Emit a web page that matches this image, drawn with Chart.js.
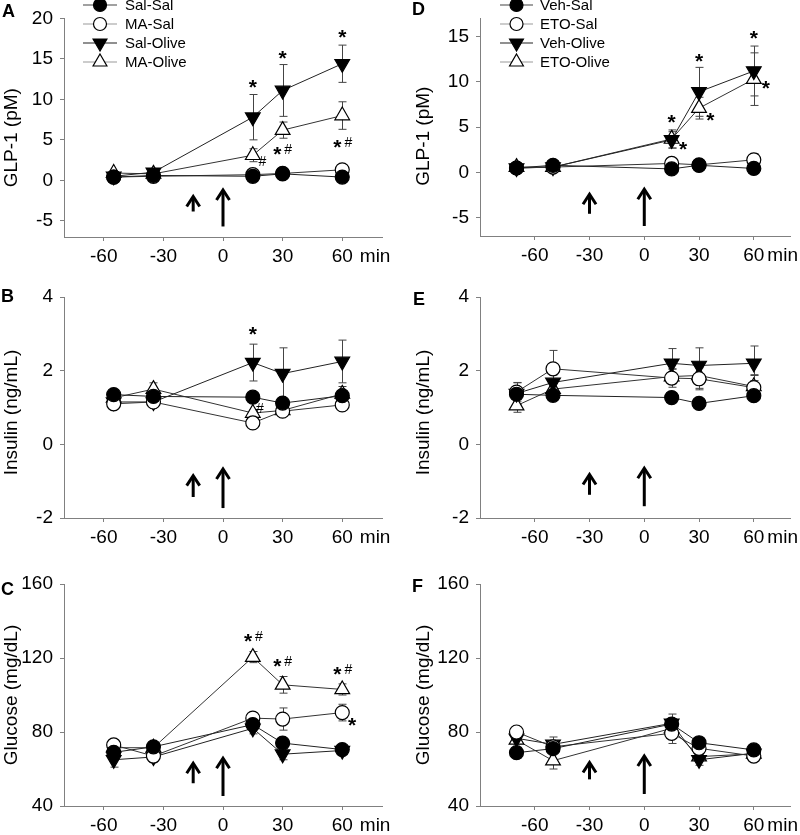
<!DOCTYPE html>
<html>
<head>
<meta charset="utf-8">
<title>GLP-1, insulin and glucose after olive oil</title>
<script src="https://cdn.jsdelivr.net/npm/chart.js@4.4.1/dist/chart.umd.min.js"></script>
<style>
  html, body { margin: 0; padding: 0; background: #fff; }
  body { position: relative; width: 800px; height: 835px; overflow: hidden; }
  .panel { position: absolute; }
  .panel canvas { display: block; }
  .tag { position: absolute; font: bold 18px Arial, 'Liberation Sans', sans-serif; line-height: 18px; color: #000; }
</style>
</head>
<body>
<div class="panel" style="left:0;top:0"><canvas id="panelA" width="400" height="270"></canvas></div>
<div class="panel" style="left:0;top:270px"><canvas id="panelB" width="400" height="280"></canvas></div>
<div class="panel" style="left:0;top:550px"><canvas id="panelC" width="400" height="285"></canvas></div>
<div class="panel" style="left:400px;top:0"><canvas id="panelD" width="400" height="270"></canvas></div>
<div class="panel" style="left:400px;top:270px"><canvas id="panelE" width="400" height="280"></canvas></div>
<div class="panel" style="left:400px;top:550px"><canvas id="panelF" width="400" height="285"></canvas></div>

<div class="tag" style="left:2px;top:2px">A</div>
<div class="tag" style="left:1px;top:287px">B</div>
<div class="tag" style="left:1px;top:580px">C</div>
<div class="tag" style="left:412px;top:0">D</div>
<div class="tag" style="left:413px;top:290px">E</div>
<div class="tag" style="left:412px;top:577px">F</div>

<script>
'use strict';

/* ── Data ────────────────────────────────────────────── */

var TIMES_MA  = [-55, -35, 15, 30, 60];
var TIMES_ETO = [-70, -50, 15, 30, 60];
var X_TICKS   = [-60, -30, 0, 30, 60];

var NAMES_MA  = ['Sal-Sal', 'MA-Sal', 'Sal-Olive', 'MA-Olive'];
var NAMES_ETO = ['Veh-Sal', 'ETO-Sal', 'Veh-Olive', 'ETO-Olive'];

var Y_TICKS_GLP_A = [-5, 0, 5, 10, 15, 20];
var Y_TICKS_GLP_D = [-5, 0, 5, 10, 15];
var Y_TICKS_INS   = [-2, 0, 2, 4];
var Y_TICKS_GLU   = [40, 80, 120, 160];

/* A — GLP-1, MA study */
var glpA_salSal     = [0.4, 0.6, 0.5, 0.8, 0.4];
var glpA_salSalErr  = [0.1, 0.1, 0.1, 0.1, 0.1];
var glpA_maSal      = [0.4, 0.5, 0.7, 0.85, 1.3];
var glpA_maSalErr   = [0.1, 0.1, 0.15, 0.1, 0.3];
var glpA_salOil     = [0.5, 1.0, 7.8, 11.1, 14.4];
var glpA_salOilErr  = [0.2, 0.3, 2.8, 3.2, 2.3];
var glpA_maOil      = [0.9, 0.8, 3.1, 6.2, 8.0];
var glpA_maOilErr   = [0.2, 0.2, 0.8, 1.0, 1.7];

/* B — insulin, MA study */
var insB_salSal     = [1.35, 1.3, 1.28, 1.12, 1.32];
var insB_salSalErr  = [0.08, 0.08, 0.05, 0.08, 0.1];
var insB_maSal      = [1.1, 1.15, 0.58, 0.9, 1.07];
var insB_maSalErr   = [0.07, 0.07, 0.05, 0.07, 0.08];
var insB_salOil     = [1.15, 1.15, 2.22, 1.92, 2.25];
var insB_salOilErr  = [0.1, 0.1, 0.5, 0.7, 0.58];
var insB_maOil      = [1.26, 1.5, 0.85, 0.92, 1.37];
var insB_maOilErr   = [0.1, 0.17, 0.08, 0.1, 0.2];

/* C — glucose, MA study */
var gluC_salSal     = [69, 72, 84, 74, 70.5];
var gluC_salSalErr  = [3, 2, 3, 2, 2];
var gluC_maSal      = [73, 67, 87.5, 87, 90.5];
var gluC_maSalErr   = [2, 2, 3, 6, 4.5];
var gluC_salOil     = [65, 66.5, 82, 68, 70];
var gluC_salOilErr  = [4, 3, 3, 3, 2];
var gluC_maOil      = [71.5, 71.5, 120.5, 105.5, 103];
var gluC_maOilErr   = [2, 2, 3, 4.5, 3];

/* D — GLP-1, ETO study */
var glpD_vehSal     = [0.5, 0.8, 0.4, 0.8, 0.45];
var glpD_vehSalErr  = [0.1, 0.1, 0.1, 0.1, 0.1];
var glpD_etoSal     = [0.5, 0.6, 1.0, 0.85, 1.4];
var glpD_etoSalErr  = [0.1, 0.1, 0.15, 0.15, 0.7];
var glpD_vehOil     = [0.5, 0.6, 3.6, 8.9, 11.2];
var glpD_vehOilErr  = [0.1, 0.1, 0.9, 2.7, 2.75];
var glpD_etoOil     = [0.6, 0.6, 3.7, 7.1, 10.3];
var glpD_etoOilErr  = [0.1, 0.1, 1.0, 1.2, 2.9];

/* E — insulin, ETO study */
var insE_vehSal     = [1.36, 1.33, 1.27, 1.11, 1.32];
var insE_vehSalErr  = [0.1, 0.05, 0.05, 0.07, 0.12];
var insE_etoSal     = [1.42, 2.05, 1.8, 1.78, 1.54];
var insE_etoSalErr  = [0.25, 0.5, 0.25, 0.3, 0.35];
var insE_vehOil     = [1.38, 1.68, 2.2, 2.14, 2.2];
var insE_vehOilErr  = [0.3, 0.2, 0.4, 0.48, 0.47];
var insE_etoOil     = [1.05, 1.5, 1.84, 1.87, 1.57];
var insE_etoOilErr  = [0.18, 0.15, 0.2, 0.35, 0.3];

/* F — glucose, ETO study */
var gluF_vehSal     = [68.8, 71, 84.3, 74.2, 70.3];
var gluF_vehSalErr  = [3, 2, 3, 2, 2];
var gluF_etoSal     = [80, 72, 79.3, 71.2, 67];
var gluF_etoSalErr  = [2.5, 3, 5.5, 3, 2];
var gluF_vehOil     = [76.6, 73.3, 84.7, 65, 68.5];
var gluF_vehOilErr  = [3, 4, 5, 3, 2];
var gluF_etoOil     = [75.7, 64.5, 82, 66.7, 68.2];
var gluF_etoOilErr  = [2, 4.5, 3, 2, 2];

/* Significance marks: [time, value, text] */
var notesA = [[15, 12.2, '*'], [30, 15.7, '*'], [60, 18.3, '*'], [19.8, 2.4, '#'], [30, 3.85, '*#'], [60.3, 4.75, '*#']];
var notesB = [[15, 3.12, '*'], [18.6, 1.0, '#']];
var notesC = [[15.3, 132, '*#'], [30, 118.2, '*#'], [60.3, 114, '*#'], [65, 86.6, '*']];
var notesD = [[15, 6.1, '*'], [30, 12.9, '*'], [60, 15.4, '*'], [21.3, 3.1, '*'], [36.2, 6.3, '*'], [66.6, 9.9, '*']];

/* Dosing arrows: [time, from, to] */
var arrowsA = [[-15, -3.85, -2.0], [0, -5.7, -1.2]];
var arrowsB = [[-15, -1.43, -0.85], [0, -1.73, -0.67]];
var arrowsC = [[-15, 52.3, 63.1], [0, 45.4, 65.8]];
var arrowsD = [[-30, -4.55, -2.4], [0, -5.9, -1.85]];
var arrowsE = [[-30, -1.37, -0.82], [0, -1.68, -0.65]];
var arrowsF = [[-30, 54.4, 63.5], [0, 46.5, 67]];

/* ── Styling ─────────────────────────────────────────── */

var FONT = "Arial, 'Liberation Sans', sans-serif";
var AXIS = '#808080';
var TEXT_SIZE = 19;

var STYLES = [
  { pointStyle: 'circle',   rotation: 0,   radius: 7,   fill: '#000', line: '#222', legendLine: '#444' },
  { pointStyle: 'circle',   rotation: 0,   radius: 7,   fill: '#fff', line: '#333', legendLine: '#999' },
  { pointStyle: 'triangle', rotation: 180, radius: 8.5, fill: '#000', line: '#222', legendLine: '#222' },
  { pointStyle: 'triangle', rotation: 0,   radius: 8.5, fill: '#fff', line: '#333', legendLine: '#999' }
];

/* ── Overlay plugin: error bars, arrows, marks, legend ── */

function drawNote(ctx, cx, cy, text) {
  var chars = text.split('');
  var gap = 3;
  var fonts = chars.map(function (c) { return c === '*' ? 'bold 21px ' + FONT : '14px ' + FONT; });
  var widths = chars.map(function (c, i) { ctx.font = fonts[i]; return ctx.measureText(c).width; });
  var total = widths.reduce(function (s, w) { return s + w; }, 0) + gap * (chars.length - 1);
  var x = cx - total / 2;
  ctx.textAlign = 'left';
  ctx.textBaseline = 'alphabetic';
  chars.forEach(function (c, i) {
    ctx.font = fonts[i];
    var base = c === '*' ? cy + 0.57 * 21 : cy + 0.36 * 14;
    ctx.fillText(c, x, base);
    x += widths[i] + gap;
  });
}

function overlay(p) {
  return {
    id: 'overlay',
    beforeDatasetsDraw: function (chart) {
      var ctx = chart.ctx, xs = chart.scales.x, ys = chart.scales.y;
      ctx.save();
      ctx.strokeStyle = '#444';
      ctx.lineWidth = 1;
      chart.data.datasets.forEach(function (ds) {
        ds.data.forEach(function (pt, i) {
          var e = ds.errors[i];
          var px = Math.round(xs.getPixelForValue(pt.x)) + 0.5;
          var top = ys.getPixelForValue(pt.y + e);
          var bot = ys.getPixelForValue(pt.y - e);
          ctx.beginPath();
          ctx.moveTo(px, top); ctx.lineTo(px, bot);
          ctx.moveTo(px - 4, top); ctx.lineTo(px + 4, top);
          ctx.moveTo(px - 4, bot); ctx.lineTo(px + 4, bot);
          ctx.stroke();
        });
      });
      ctx.restore();
    },
    afterDatasetsDraw: function (chart) {
      var ctx = chart.ctx, xs = chart.scales.x, ys = chart.scales.y;
      ctx.save();
      ctx.strokeStyle = '#000';
      ctx.fillStyle = '#000';
      ctx.lineWidth = 3;
      ctx.lineCap = 'butt';
      p.arrows.forEach(function (a) {
        var x = xs.getPixelForValue(a[0]);
        var y0 = ys.getPixelForValue(a[1]);
        var y1 = ys.getPixelForValue(a[2]);
        ctx.beginPath();
        ctx.moveTo(x, y0); ctx.lineTo(x, y1 + 1);
        ctx.stroke();
        ctx.beginPath();
        ctx.moveTo(x - 6.5, y1 + 10); ctx.lineTo(x, y1); ctx.lineTo(x + 6.5, y1 + 10);
        ctx.stroke();
      });
      p.notes.forEach(function (n) {
        drawNote(ctx, xs.getPixelForValue(n[0]), ys.getPixelForValue(n[1]), n[2]);
      });
      ctx.restore();
    },
    afterDraw: function (chart) {
      var ctx = chart.ctx, xs = chart.scales.x, area = chart.chartArea;
      ctx.save();
      ctx.fillStyle = '#000';

      /* y-axis title, a little below centre like the original */
      ctx.save();
      ctx.font = TEXT_SIZE + 'px ' + FONT;
      ctx.textAlign = 'center';
      ctx.textBaseline = 'middle';
      ctx.translate(p.padLeft + 12, (area.top + area.bottom) / 2 + p.titleShift);
      ctx.rotate(-Math.PI / 2);
      ctx.fillText(p.title, 0, 0);
      ctx.restore();

      /* "min" after the last tick label */
      var items = xs.getLabelItems();
      var last = items[items.length - 1];
      ctx.font = TEXT_SIZE + 'px ' + FONT;
      ctx.textBaseline = last.options.textBaseline;
      ctx.textAlign = 'left';
      var w = ctx.measureText(String(last.label)).width;
      ctx.fillText('min', last.options.translation[0] + w / 2 + p.minGap,
        last.options.translation[1] + last.textOffset);

      /* legend */
      if (p.legend) {
        var L = p.legend;
        p.names.forEach(function (name, i) {
          var st = STYLES[i], y = L.ys[i];
          ctx.strokeStyle = st.legendLine;
          ctx.lineWidth = 1.2;
          ctx.beginPath();
          ctx.moveTo(L.x0, y); ctx.lineTo(L.x1, y);
          ctx.stroke();
          ctx.fillStyle = st.fill;
          ctx.strokeStyle = '#000';
          Chart.helpers.drawPoint(ctx, {
            pointStyle: st.pointStyle, rotation: st.rotation,
            radius: st.radius - 0.5, borderWidth: 1.2
          }, (L.x0 + L.x1) / 2, y);
          ctx.fillStyle = '#000';
          ctx.font = '15px ' + FONT;
          ctx.textBaseline = 'middle';
          ctx.textAlign = 'left';
          ctx.fillText(name, L.tx, y + 1);
        });
      }
      ctx.restore();
    }
  };
}

/* ── Panel factory ───────────────────────────────────── */

function makePanel(id, p) {
  var datasets = p.series.map(function (s, i) {
    var st = STYLES[i];
    return {
      label: p.names[i],
      data: p.times.map(function (t, k) { return { x: t, y: s[0][k] }; }),
      errors: s[1],
      borderColor: st.line,
      borderWidth: 1,
      pointStyle: st.pointStyle,
      rotation: st.rotation,
      pointRadius: st.radius,
      pointBackgroundColor: st.fill,
      pointBorderColor: '#000',
      pointBorderWidth: 1.2,
      tension: 0,
      clip: false
    };
  });

  return new Chart(document.getElementById(id), {
    type: 'line',
    data: { datasets: datasets },
    options: {
      responsive: false,
      animation: false,
      events: [],
      layout: { padding: { left: p.padLeft, right: p.padRight, top: p.padTop, bottom: 0 } },
      plugins: { legend: { display: false }, tooltip: { enabled: false } },
      scales: {
        x: {
          type: 'linear',
          min: p.xMin,
          max: p.xMax,
          afterBuildTicks: function (s) { s.ticks = X_TICKS.map(function (v) { return { value: v }; }); },
          afterFit: function (s) { s.height = p.xHeight; },
          grid: { drawOnChartArea: false, drawTicks: true, tickLength: 4, color: AXIS },
          border: { color: AXIS, width: 1 },
          ticks: { color: '#000', font: { family: FONT, size: TEXT_SIZE }, padding: 4, maxRotation: 0, autoSkip: false }
        },
        y: {
          type: 'linear',
          min: p.yMin,
          max: p.yMax,
          afterBuildTicks: function (s) { s.ticks = p.yTicks.map(function (v) { return { value: v }; }); },
          afterFit: function (s) { s.width = p.yWidth; },
          grid: { drawOnChartArea: false, drawTicks: true, tickLength: 4, color: AXIS },
          border: { color: AXIS, width: 1 },
          ticks: { color: '#000', font: { family: FONT, size: TEXT_SIZE }, padding: 7, autoSkip: false }
        }
      }
    },
    plugins: [overlay(p)]
  });
}

var LEFT  = { times: TIMES_MA,  names: NAMES_MA,  xMin: -80, xMax: 80, padLeft: 0,  padRight: 18, yWidth: 64, minGap: 7 };
var RIGHT = { times: TIMES_ETO, names: NAMES_ETO, xMin: -90, xMax: 80, padLeft: 12, padRight: 3,  yWidth: 68, minGap: 3 };

function merge(a, b) {
  var o = {};
  Object.keys(a).forEach(function (k) { o[k] = a[k]; });
  Object.keys(b).forEach(function (k) { o[k] = b[k]; });
  return o;
}

makePanel('panelA', merge(LEFT, {
  title: 'GLP-1 (pM)', titleShift: 10, yMin: -7, yMax: 20, yTicks: Y_TICKS_GLP_A, padTop: 14, xHeight: 33,
  series: [[glpA_salSal, glpA_salSalErr], [glpA_maSal, glpA_maSalErr], [glpA_salOil, glpA_salOilErr], [glpA_maOil, glpA_maOilErr]],
  notes: notesA, arrows: arrowsA,
  legend: { x0: 83, x1: 117, tx: 125, ys: [5, 24, 43, 62] }
}));

makePanel('panelB', merge(LEFT, {
  title: 'Insulin (ng/mL)', titleShift: 5, yMin: -2, yMax: 4, yTicks: Y_TICKS_INS, padTop: 27, xHeight: 32,
  series: [[insB_salSal, insB_salSalErr], [insB_maSal, insB_maSalErr], [insB_salOil, insB_salOilErr], [insB_maOil, insB_maOilErr]],
  notes: notesB, arrows: arrowsB
}));

makePanel('panelC', merge(LEFT, {
  title: 'Glucose (mg/dL)', titleShift: 0, yMin: 40, yMax: 160, yTicks: Y_TICKS_GLU, padTop: 34, xHeight: 29,
  series: [[gluC_salSal, gluC_salSalErr], [gluC_maSal, gluC_maSalErr], [gluC_salOil, gluC_salOilErr], [gluC_maOil, gluC_maOilErr]],
  notes: notesC, arrows: arrowsC
}));

makePanel('panelD', merge(RIGHT, {
  title: 'GLP-1 (pM)', titleShift: 9, yMin: -7, yMax: 17, yTicks: Y_TICKS_GLP_D, padTop: 14, xHeight: 34,
  series: [[glpD_vehSal, glpD_vehSalErr], [glpD_etoSal, glpD_etoSalErr], [glpD_vehOil, glpD_vehOilErr], [glpD_etoOil, glpD_etoOilErr]],
  notes: notesD, arrows: arrowsD,
  legend: { x0: 100, x1: 133, tx: 140, ys: [5, 24, 43, 62] }
}));

makePanel('panelE', merge(RIGHT, {
  title: 'Insulin (ng/mL)', titleShift: 5, yMin: -2, yMax: 4, yTicks: Y_TICKS_INS, padTop: 27, xHeight: 32,
  series: [[insE_vehSal, insE_vehSalErr], [insE_etoSal, insE_etoSalErr], [insE_vehOil, insE_vehOilErr], [insE_etoOil, insE_etoOilErr]],
  notes: [], arrows: arrowsE
}));

makePanel('panelF', merge(RIGHT, {
  title: 'Glucose (mg/dL)', titleShift: 0, yMin: 40, yMax: 160, yTicks: Y_TICKS_GLU, padTop: 34, xHeight: 29,
  series: [[gluF_vehSal, gluF_vehSalErr], [gluF_etoSal, gluF_etoSalErr], [gluF_vehOil, gluF_vehOilErr], [gluF_etoOil, gluF_etoOilErr]],
  notes: [], arrows: arrowsF
}));
</script>
</body>
</html>
